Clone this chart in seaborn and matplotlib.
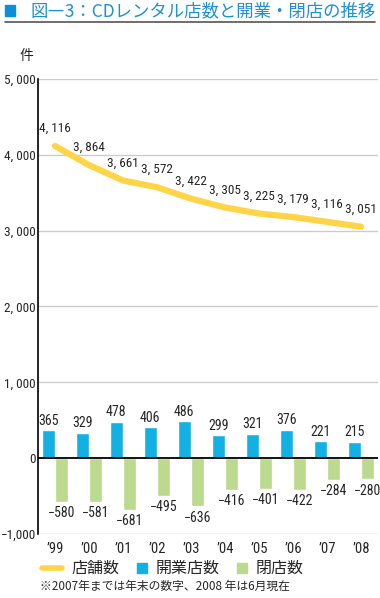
import pandas as pd
import matplotlib
matplotlib.use('Agg')
import matplotlib.pyplot as plt
from matplotlib import font_manager
import seaborn as sns

# data
years = ['’99', '’00', '’01', '’02', '’03', '’04', '’05', '’06', '’07', '’08']
stores = [4116, 3864, 3661, 3572, 3422, 3305, 3225, 3179, 3116, 3051]
opened = [365, 329, 478, 406, 486, 299, 321, 376, 221, 215]
closed = [-580, -581, -681, -495, -636, -416, -401, -422, -284, -280]
yticks = [-1000, 0, 1000, 2000, 3000, 4000, 5000]
ytick_labels = ['−1,000', '0', '1, 000', '2, 000', '3, 000', '4, 000', '5, 000']

sns.set_style('white')

# pick a narrow font for the numbers if one is there
fonts = font_manager.fontManager.ttflist
names = {f.name for f in fonts}
stretch = 'normal'
num_family = 'DejaVu Sans'
for cand in ['Liberation Sans Narrow', 'Roboto Condensed', 'Open Sans Condensed']:
    if cand in names:
        num_family = cand
        break
else:
    if any(f.name == 'DejaVu Sans' and f.stretch == 'condensed' for f in fonts):
        stretch = 'condensed'

num_font = [num_family, 'DejaVu Sans']
jp_font = ['Noto Sans CJK JP', 'DejaVu Sans']
plt.rcParams['font.family'] = num_font
plt.rcParams['font.stretch'] = stretch

blue = '#12B0E3'
green = '#BBDA8D'
yellow = '#FFD447'
fs = 9.5

bars = pd.DataFrame({
    'year': years * 2,
    'value': opened + closed,
    'kind': ['開業店数'] * len(years) + ['閉店数'] * len(years),
})

fig = plt.figure(figsize=(3.8, 5.98), dpi=100)
ax = fig.add_axes([0.1, 0.107, 0.895, 0.761])

# grid lines
for t in yticks:
    if t != 0:
        ax.axhline(t, color='#CCCCCC', lw=1, zorder=0)

sns.barplot(data=bars, x='year', y='value', hue='kind', order=years,
            palette=[blue, green], width=0.8, gap=0.05, dodge=True,
            saturation=1, legend=False, ax=ax, zorder=2)
sns.pointplot(x=years, y=stores, order=years, color=yellow, markers='',
              linestyles='-', linewidth=4.5, errorbar=None, ax=ax, zorder=3)
ax.axhline(0, color='black', lw=1.3, zorder=4)

# labels
n = len(years)
for p in ax.patches[:2 * n]:
    v = p.get_height()
    x = p.get_x() + p.get_width() / 2
    if v >= 0:
        ax.annotate(f'{int(v)}', (x, v), xytext=(0, 2), textcoords='offset points',
                    ha='center', va='bottom', fontsize=fs + 0.5)
    else:
        ax.annotate(f'−{int(-v)}', (x, v), xytext=(0, -3), textcoords='offset points',
                    ha='center', va='top', fontsize=fs + 0.5)
for i, v in enumerate(stores):
    ax.annotate(f'{v:,}'.replace(',', ', '), (i, v), xytext=(0, 8),
                textcoords='offset points', ha='center', va='bottom', fontsize=fs)

ax.set_xlim(-0.5, 9.5)
ax.set_ylim(-1000, 5000)
ax.set_yticks(yticks)
ax.set_yticklabels(ytick_labels)
ax.tick_params(axis='y', length=0, labelsize=fs, pad=1.5)
ax.tick_params(axis='x', length=0, labelsize=fs + 1, pad=6)
ax.set_xlabel('')
ax.set_ylabel('')
for s in ['top', 'right', 'bottom']:
    ax.spines[s].set_visible(False)
ax.spines['left'].set_color('black')
ax.spines['left'].set_linewidth(1.2)

ax.text(-0.035, 1.035, '件', transform=ax.transAxes, fontsize=10, family=jp_font,
        ha='center', va='bottom')

# title
fig.patches.append(plt.Rectangle((5 / 380, 1 - 16 / 598), 10 / 380, 11 / 598,
                                 transform=fig.transFigure, color='#0A8FD8'))
fig.text(30 / 380, 1 - 11 / 598, '図―3：CDレンタル店数と開業・閉店の推移', color='#1E90D6',
         fontsize=12.5, family=jp_font, va='center', ha='left')
fig.add_artist(plt.Line2D([5 / 380, 375 / 380], [1 - 22 / 598] * 2, color='#555555', lw=1.2,
                          transform=fig.transFigure))

# legend
ly = 1 - 568 / 598
fig.add_artist(plt.Line2D([42 / 380, 62 / 380], [ly, ly], color=yellow, lw=4,
                          transform=fig.transFigure))
fig.text(72 / 380, ly, '店舗数', fontsize=11.5, family=jp_font, va='center')
fig.patches.append(plt.Rectangle((137 / 380, ly - 5 / 598), 10 / 380, 10 / 598,
                                 transform=fig.transFigure, color=blue))
fig.text(156 / 380, ly, '開業店数', fontsize=11.5, family=jp_font, va='center')
fig.patches.append(plt.Rectangle((237 / 380, ly - 5 / 598), 10 / 380, 10 / 598,
                                 transform=fig.transFigure, color=green))
fig.text(256 / 380, ly, '閉店数', fontsize=11.5, family=jp_font, va='center')
fig.text(40 / 380, 1 - 586 / 598, '※2007年までは年末の数字、2008 年は6月現在', fontsize=8.5,
         family=jp_font, va='center')

fig.savefig('out.png', dpi=100)
